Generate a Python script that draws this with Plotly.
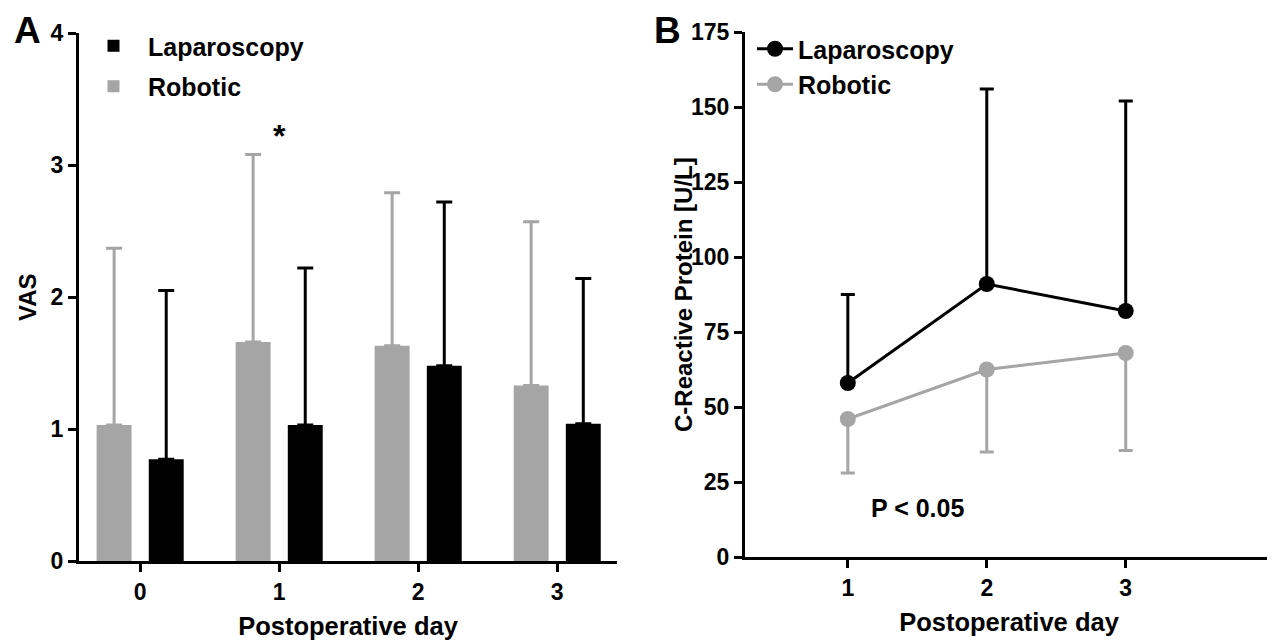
import plotly.graph_objects as go

# ---- Panel A data (VAS) ----
days_a = [0, 1, 2, 3]
vas_robotic = [1.03, 1.66, 1.63, 1.33]
vas_robotic_sd = [1.34, 1.42, 1.16, 1.24]
vas_lap = [0.77, 1.03, 1.48, 1.04]
vas_lap_sd = [1.28, 1.19, 1.24, 1.10]

# ---- Panel B data (CRP) ----
days_b = [1, 2, 3]
crp_lap = [58, 91, 82]
crp_lap_sd = [29.5, 65, 70]
crp_robotic = [46, 62.5, 68]
crp_robotic_sd = [18, 27.5, 32.5]

GRAY = "#A5A5A5"
BLACK = "#000000"
FONT = "Arial, Liberation Sans, sans-serif"

W, H = 1275, 640
ML, MR, MT, MB = 4, 0, 8, 0
OFF = 8  # page body margin offset


def fx(px):
    return (px - OFF - ML) / (W - ML - MR)


def fy(py):
    return 1 - (py - OFF - MT) / (H - MT - MB)


fig = go.Figure()

# Panel A bars
fig.add_trace(go.Bar(
    x=days_a, y=vas_robotic, name="Robotic", marker=dict(color=GRAY, line=dict(width=0)),
    error_y=dict(type="data", symmetric=False, array=vas_robotic_sd,
                 arrayminus=[0] * len(vas_robotic), color=GRAY, thickness=3, width=8),
    xaxis="x", yaxis="y", legend="legend", legendrank=2, legendgroup="ra",
))
fig.add_trace(go.Bar(
    x=days_a, y=vas_lap, name="Laparoscopy", marker=dict(color=BLACK, line=dict(width=0)),
    error_y=dict(type="data", symmetric=False, array=vas_lap_sd,
                 arrayminus=[0] * len(vas_lap), color=BLACK, thickness=3, width=8),
    xaxis="x", yaxis="y", legend="legend", legendrank=1, legendgroup="la",
))

# Panel B lines
fig.add_trace(go.Scatter(
    x=days_b, y=crp_lap, name="Laparoscopy", mode="lines+markers",
    line=dict(color=BLACK, width=3), marker=dict(color=BLACK, size=16),
    error_y=dict(type="data", symmetric=False, array=crp_lap_sd,
                 arrayminus=[0] * len(crp_lap), color=BLACK, thickness=3, width=7),
    xaxis="x2", yaxis="y2", legend="legend2",
))
fig.add_trace(go.Scatter(
    x=days_b, y=crp_robotic, name="Robotic", mode="lines+markers",
    line=dict(color=GRAY, width=3), marker=dict(color=GRAY, size=16),
    error_y=dict(type="data", symmetric=False, array=[0] * len(crp_robotic),
                 arrayminus=crp_robotic_sd, color=GRAY, thickness=3, width=7),
    xaxis="x2", yaxis="y2", legend="legend2",
))

axis_common = dict(
    showgrid=False, zeroline=False, showline=True, linecolor="black", linewidth=3,
    ticks="outside", ticklen=8, tickwidth=3, tickcolor="black", automargin=False,
    tickfont=dict(family=FONT, size=23, color="black", weight="bold"),
)
xtitle_font = dict(family=FONT, size=25.5, color="black", weight="bold")
ytitle_font = dict(family=FONT, size=24, color="black", weight="bold")
legend_font = dict(family=FONT, size=25, color="black", weight="bold")
panel_font = dict(family=FONT, size=37, color="black", weight="bold")

fig.update_layout(
    width=W, height=H,
    margin=dict(l=ML, r=MR, t=MT, b=MB, autoexpand=False),
    paper_bgcolor="white", plot_bgcolor="white",
    barmode="group", bargap=0.25, bargroupgap=0.33,
    showlegend=True,
    xaxis=dict(axis_common, domain=[fx(79), fx(617)], range=[-0.44, 3.43],
               tickvals=days_a, ticktext=[str(d) for d in days_a], anchor="y",
               title=dict(text="Postoperative day", font=xtitle_font, standoff=14)),
    yaxis=dict(axis_common, domain=[fy(561), fy(33)], range=[0, 4],
               tickvals=[0, 1, 2, 3, 4], anchor="x"),
    xaxis2=dict(axis_common, domain=[fx(745), fx(1273)], range=[0.26, 4.06],
                tickvals=days_b, ticktext=[str(d) for d in days_b], anchor="y2",
                title=dict(text="Postoperative day", font=xtitle_font, standoff=14)),
    yaxis2=dict(axis_common, domain=[fy(557), fy(32)], range=[0, 175],
                tickvals=[0, 25, 50, 75, 100, 125, 150, 175], anchor="x2"),
    legend=dict(x=fx(79), y=fy(23), xanchor="left", yanchor="top",
                traceorder="grouped", tracegroupgap=5, itemwidth=59,
                bgcolor="rgba(0,0,0,0)", font=legend_font),
    legend2=dict(x=fx(752), y=fy(26), xanchor="left", yanchor="top",
                 traceorder="normal", itemwidth=36, bgcolor="rgba(0,0,0,0)",
                 font=legend_font),
    annotations=[
        dict(text="VAS", x=fx(28), y=fy(297), xref="paper", yref="paper",
             xanchor="center", yanchor="middle", textangle=-90, showarrow=False,
             font=ytitle_font),
        dict(text="C-Reactive Protein [U/L]", x=fx(683), y=fy(295), xref="paper",
             yref="paper", xanchor="center", yanchor="middle", textangle=-90,
             showarrow=False, font=ytitle_font),
        dict(text="A", x=fx(27), y=fy(30), xref="paper", yref="paper", xanchor="center",
             yanchor="middle", showarrow=False, font=panel_font),
        dict(text="B", x=fx(667), y=fy(30), xref="paper", yref="paper", xanchor="center",
             yanchor="middle", showarrow=False, font=panel_font),
        dict(text="*", x=1, y=3.22, xref="x", yref="y", showarrow=False,
             font=dict(family=FONT, size=32, color="black", weight="bold")),
        dict(text="P < 0.05", x=1.5, y=16.5, xref="x2", yref="y2", showarrow=False,
             font=dict(family=FONT, size=25, color="black", weight="bold")),
    ],
)

fig.write_html("out.html")
